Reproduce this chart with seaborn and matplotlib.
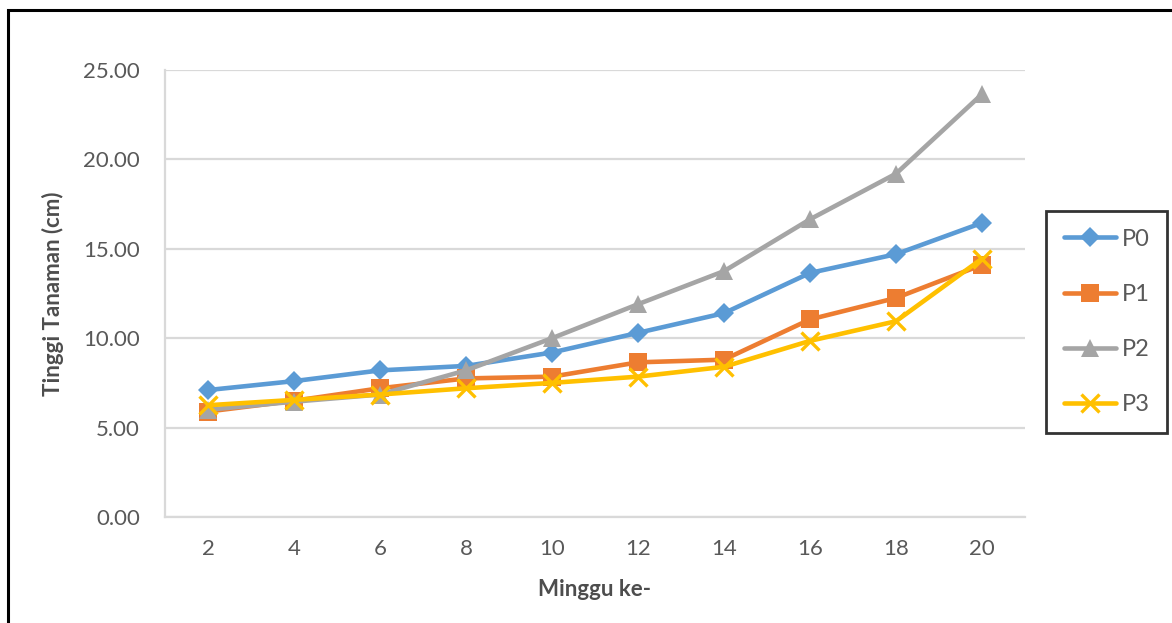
import matplotlib
matplotlib.use("Agg")
import matplotlib.pyplot as plt
import matplotlib.patches as mpatches
from matplotlib.ticker import FormatStrFormatter
import seaborn as sns
import pandas as pd

# Plant height (cm) per week for each treatment
minggu = [2, 4, 6, 8, 10, 12, 14, 16, 18, 20]
p0 = [7.10, 7.60, 8.20, 8.45, 9.20, 10.30, 11.40, 13.65, 14.70, 16.45]
p1 = [5.90, 6.50, 7.20, 7.75, 7.85, 8.65, 8.80, 11.05, 12.25, 14.10]
p2 = [6.00, 6.45, 6.85, 8.20, 10.00, 11.90, 13.75, 16.65, 19.20, 23.65]
p3 = [6.25, 6.55, 6.85, 7.20, 7.50, 7.85, 8.40, 9.85, 10.95, 14.45]
perlakuan = ["P0", "P1", "P2", "P3"]
warna = ["#5B9BD5", "#ED7D31", "#A5A5A5", "#FFC000"]
y_ticks = [0, 5, 10, 15, 20, 25]

df = pd.DataFrame({
    "minggu": minggu * 4,
    "tinggi": p0 + p1 + p2 + p3,
    "perlakuan": sum([[p] * len(minggu) for p in perlakuan], []),
})

sns.set_theme(style="white")
plt.rcParams["font.family"] = ["Lato", "DejaVu Sans"]

fig = plt.figure(figsize=(11.72, 6.23), dpi=100)
ax = fig.add_axes([165 / 1172, 1 - 517 / 623, 860 / 1172, 447 / 623])

markers = {"P0": "D", "P1": "s", "P2": "^", "P3": "x"}
sizes = {"P0": 10.5, "P1": 13, "P2": 13.5, "P3": 13.5}
handles = []
for name, col in zip(perlakuan, warna):
    sub = df[df["perlakuan"] == name]
    sns.lineplot(data=sub, x="minggu", y="tinggi", color=col, marker=markers[name],
                 markersize=sizes[name], markeredgecolor=col, markerfacecolor=col,
                 markeredgewidth=2.4 if name == "P3" else 0,
                 linewidth=3.3, ax=ax, legend=False)
    line = ax.lines[-1]
    line.set_solid_joinstyle("round")
    line.set_solid_capstyle("round")
    handles.append(line)

ax.set_xlim(1, 21)
ax.set_ylim(0, 25)
ax.set_xticks(minggu)
ax.set_xticklabels([str(m) for m in minggu])
ax.set_yticks(y_ticks)
ax.yaxis.set_major_formatter(FormatStrFormatter("%.2f"))
ax.grid(axis="y", color="#D9D9D9", linewidth=1.6)
ax.set_axisbelow(True)
for side in ["top", "right"]:
    ax.spines[side].set_visible(False)
for side in ["left", "bottom"]:
    ax.spines[side].set_color("#D9D9D9")
    ax.spines[side].set_linewidth(1.6)
ax.tick_params(axis="both", length=0, labelsize=16, labelcolor="#595959")
ax.tick_params(axis="y", pad=18)
ax.tick_params(axis="x", pad=16)

ax.set_xlabel("Minggu ke-", fontsize=16, fontweight="bold", color="#4D4D4D", labelpad=14)
ax.set_ylabel("Tinggi Tanaman (cm)", fontsize=16, fontweight="bold", color="#4D4D4D", labelpad=14)

leg = fig.legend(handles, perlakuan, loc="upper left",
                 bbox_to_anchor=(1046 / 1172, 1 - 211 / 623),
                 frameon=True, fancybox=False, fontsize=17, handlelength=2.2,
                 labelspacing=1.45, borderpad=0.75, handletextpad=0.25,
                 borderaxespad=0)
leg.get_frame().set_edgecolor("black")
leg.get_frame().set_linewidth(2)
for t in leg.get_texts():
    t.set_color("#595959")

# Outer chart frame
frame = mpatches.Rectangle((8 / 1172, -0.05), 1.1, 1 - 10 / 623 + 0.05,
                           transform=fig.transFigure, fill=False,
                           edgecolor="black", linewidth=2.2, clip_on=False)
fig.patches.append(frame)

fig.savefig("out.png", dpi=100)
